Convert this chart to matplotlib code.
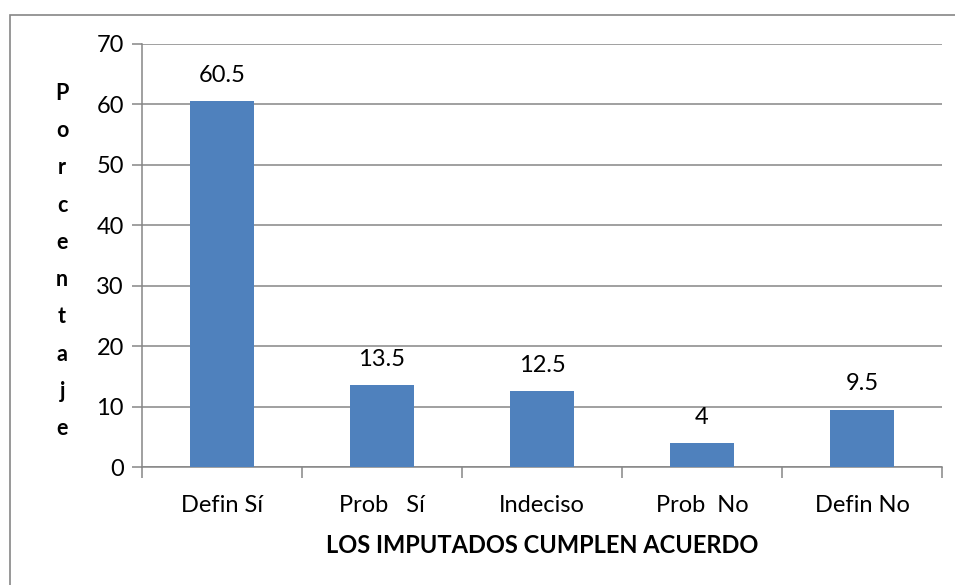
import matplotlib
matplotlib.use('Agg')
import matplotlib.pyplot as plt
from matplotlib.patches import Rectangle

categories = ['Defin Sí', 'Prob   Sí', 'Indeciso', 'Prob  No', 'Defin No']
values = [60.5, 13.5, 12.5, 4, 9.5]
value_labels = ['60.5', '13.5', '12.5', '4', '9.5']
y_ticks = [0, 10, 20, 30, 40, 50, 60, 70]
x_title = 'LOS IMPUTADOS CUMPLEN ACUERDO'
y_title = 'Porcentaje'

plt.rcParams['font.family'] = ['Lato', 'DejaVu Sans']

W, H = 955, 585
fig = plt.figure(figsize=(W / 100, H / 100), dpi=100)
ax = fig.add_axes([142 / W, 1 - 467 / H, 800 / W, (467 - 44) / H])

# outer chart frame (runs off the right/bottom edge like the source)
fig.patches.append(Rectangle((10 / W, -0.1), 1.1, 1 - 15 / H + 0.1,
                             transform=fig.transFigure, fill=False,
                             edgecolor='#868686', linewidth=1.2))

x = list(range(len(categories)))
ax.bar(x, values, width=0.4, color='#4F81BD', zorder=3)
for xi, v, lab in zip(x, values, value_labels):
    ax.annotate(lab, (xi, v), xytext=(0, 11), textcoords='offset points',
                ha='center', va='bottom', fontsize=17, color='black')

ax.set_xlim(-0.5, len(categories) - 0.5)
ax.set_ylim(0, 70)
ax.set_yticks(y_ticks)
ax.set_yticklabels([str(t) for t in y_ticks], fontsize=17)
ax.yaxis.grid(True, color='#868686', linewidth=1.1, zorder=0)
ax.tick_params(axis='y', length=7, width=1.1, color='#868686', pad=6)

ax.set_xticks([i - 0.5 for i in range(len(categories) + 1)], minor=False)
ax.set_xticklabels([])
ax.set_xticks(x, minor=True)
ax.set_xticklabels(categories, minor=True, fontsize=17)
ax.tick_params(axis='x', which='major', length=8, width=1.1, color='#868686')
ax.tick_params(axis='x', which='minor', length=0, pad=20)

for side in ['top', 'right']:
    ax.spines[side].set_visible(False)
for side in ['left', 'bottom']:
    ax.spines[side].set_color('#868686')
    ax.spines[side].set_linewidth(1.1)

ax.set_xlabel(x_title, fontsize=17, fontweight='bold', labelpad=13)
fig.text(62 / W, 1 - 261 / H, '\n'.join(y_title), ha='center', va='center',
         fontsize=15.5, fontweight='bold', linespacing=1.96)

fig.savefig('out.png', dpi=100)
